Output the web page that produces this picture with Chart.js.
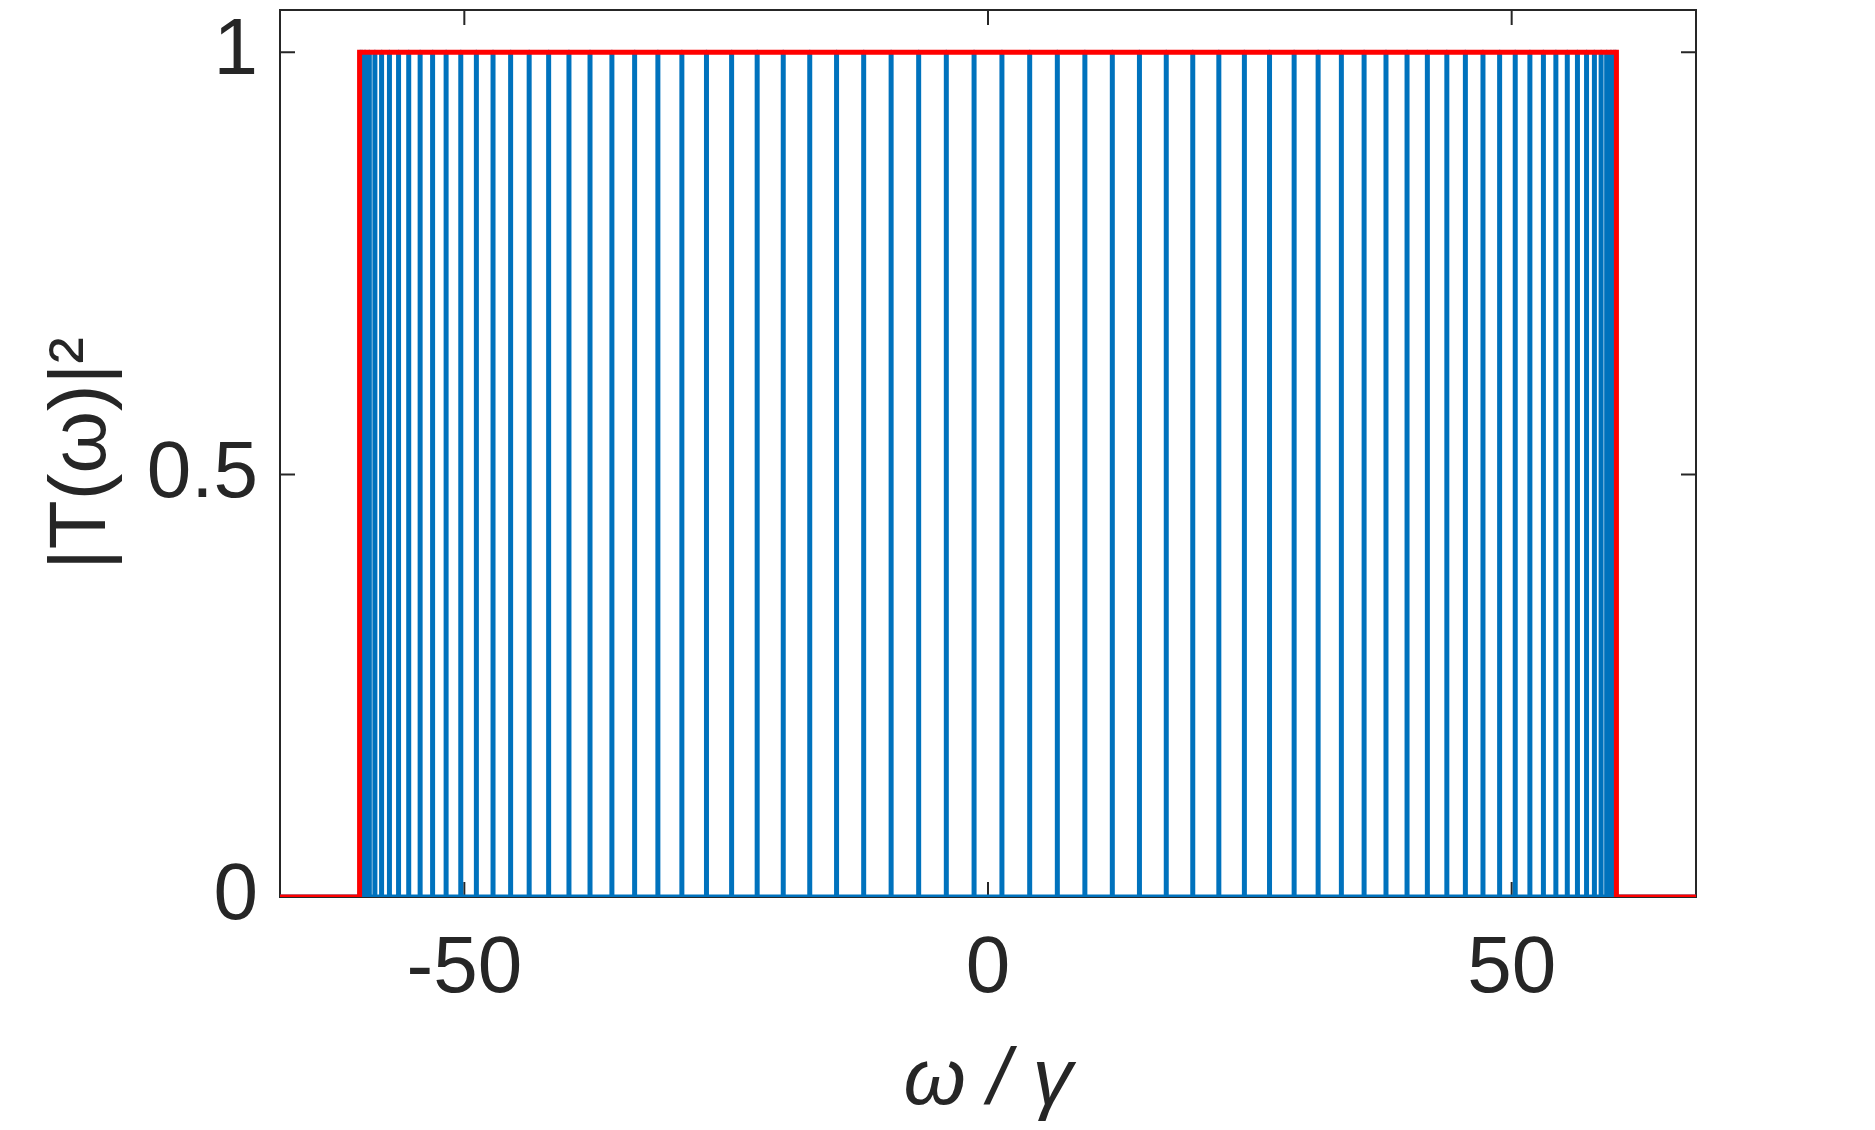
<!DOCTYPE html>
<html>
<head>
<meta charset="utf-8">
<title>|T(ω)|² vs ω/γ</title>
<script src="https://cdn.jsdelivr.net/npm/chart.js@4.4.0/dist/chart.umd.min.js"></script>
<style>
  html, body { margin: 0; padding: 0; background: #fff; }
  #wrap { width: 1875px; height: 1130px; position: relative; }
</style>
</head>
<body>
<div id="wrap"><canvas id="chart"></canvas></div>
<script>
/* ── data ──────────────────────────────────────────────── */
// resonance positions (ω/γ) where |T|² reaches 1
const peakOmega = [
  -59.94, -59.77, -59.48, -59.07, -58.54, -57.90, -57.15, -56.28, -55.31, -54.22,
  -53.03, -51.74, -50.34, -48.85, -47.26, -45.58, -43.81, -41.95, -40.01, -38.00,
  -35.91, -33.74, -31.52, -29.23, -26.88, -24.48, -22.04, -19.55, -17.02, -14.46,
  -11.87,  -9.25,  -6.62,  -3.98,  -1.33,
    1.33,   3.98,   6.62,   9.25,  11.87,  14.46,  17.02,  19.55,  22.04,  24.48,
   26.88,  29.23,  31.52,  33.74,  35.91,  38.00,  40.01,  41.95,  43.81,  45.58,
   47.26,  48.85,  50.34,  51.74,  53.03,  54.22,  55.31,  56.28,  57.15,  57.90,
   58.54,  59.07,  59.48,  59.77,  59.94
];
const peakT  = 1;   // height of every resonance
const floorT = 0;   // transmission between resonances

// red band: ideal pass band |ω/γ| < 60
const bandX = [-67.6, -60, -60, 60, 60, 67.6];
const bandY = [0, 0, 1, 1, 0, 0];

const xTicks      = [-50, 0, 50];
const xTickLabels = ['-50', '0', '50'];
const yTicks      = [0, 0.5, 1];
const yTickLabels = ['0', '0.5', '1'];

const X_MIN = -67.6, X_MAX = 67.6;
const Y_MIN = 0,     Y_MAX = 1.05;

/* ── styles ─────────────────────────────────────────────── */
const BLUE       = '#0072BD';
const RED        = '#FF0000';
const AXIS_COLOR = '#262626';
const FONT       = "'Liberation Sans', Arial, Helvetica, sans-serif";
const TICK_LEN   = 15;

/* blue curve: flat floor with a spike at every resonance */
const bluePts = [{ x: X_MIN, y: floorT }];
peakOmega.forEach(p => {
  bluePts.push({ x: p, y: floorT }, { x: p, y: peakT }, { x: p, y: floorT });
});
bluePts.push({ x: X_MAX, y: floorT });

const redPts = bandX.map((v, i) => ({ x: v, y: bandY[i] }));

/* box + inward ticks, drawn under the data like MATLAB */
const boxTicks = {
  id: 'boxTicks',
  beforeDatasetsDraw(chart) {
    const { ctx, chartArea: a, scales: { x, y } } = chart;
    ctx.save();
    ctx.strokeStyle = AXIS_COLOR;
    ctx.lineWidth = 2;
    ctx.strokeRect(a.left, a.top, a.right - a.left, a.bottom - a.top);
    ctx.beginPath();
    xTicks.forEach(v => {
      const px = x.getPixelForValue(v);
      ctx.moveTo(px, a.bottom); ctx.lineTo(px, a.bottom - TICK_LEN);
      ctx.moveTo(px, a.top);    ctx.lineTo(px, a.top + TICK_LEN);
    });
    yTicks.forEach(v => {
      const py = y.getPixelForValue(v);
      ctx.moveTo(a.left, py);  ctx.lineTo(a.left + TICK_LEN, py);
      ctx.moveTo(a.right, py); ctx.lineTo(a.right - TICK_LEN, py);
    });
    ctx.stroke();
    ctx.restore();
  }
};

new Chart(document.getElementById('chart'), {
  type: 'scatter',
  data: {
    datasets: [
      {
        label: 'band',
        data: redPts,
        showLine: true,
        borderColor: RED,
        borderWidth: 5,
        pointRadius: 0,
        tension: 0,
        borderJoinStyle: 'miter'
      },
      {
        label: '|T|²',
        data: bluePts,
        showLine: true,
        borderColor: BLUE,
        borderWidth: 5,
        pointRadius: 0,
        tension: 0,
        borderJoinStyle: 'round',
        borderCapStyle: 'round'
      }
    ]
  },
  options: {
    responsive: true,
    maintainAspectRatio: false,
    animation: false,
    events: [],
    layout: { padding: { top: 10, right: 179, left: 0, bottom: 0 } },
    plugins: { legend: { display: false }, tooltip: { enabled: false } },
    scales: {
      x: {
        type: 'linear',
        min: X_MIN, max: X_MAX,
        grid: { display: false, drawTicks: false },
        border: { display: false },
        afterBuildTicks: s => { s.ticks = xTicks.map(v => ({ value: v })); },
        afterFit: s => { s.height = 233; s.paddingLeft = 0; s.paddingRight = 0; },
        ticks: {
          autoSkip: false, maxRotation: 0, padding: 25,
          color: AXIS_COLOR,
          font: { family: FONT, size: 80 },
          callback: v => xTickLabels[xTicks.indexOf(v)]
        },
        title: {
          display: true,
          text: 'ω / γ',
          color: AXIS_COLOR,
          font: { family: FONT, size: 80, style: 'italic' },
          padding: { top: 0, bottom: 0 }
        }
      },
      y: {
        type: 'linear',
        min: Y_MIN, max: Y_MAX,
        grid: { display: false, drawTicks: false },
        border: { display: false },
        afterBuildTicks: s => { s.ticks = yTicks.map(v => ({ value: v })); },
        afterFit: s => { s.width = 280; s.paddingTop = 0; s.paddingBottom = 0; },
        ticks: {
          autoSkip: false, padding: 22,
          color: AXIS_COLOR,
          font: { family: FONT, size: 80 },
          callback: v => yTickLabels[yTicks.indexOf(v)]
        },
        title: {
          display: true,
          text: '|T(ω)|²',
          color: AXIS_COLOR,
          font: { family: FONT, size: 80 },
          padding: { top: 35, bottom: 0 }
        }
      }
    }
  },
  plugins: [boxTicks]
});
</script>
</body>
</html>
